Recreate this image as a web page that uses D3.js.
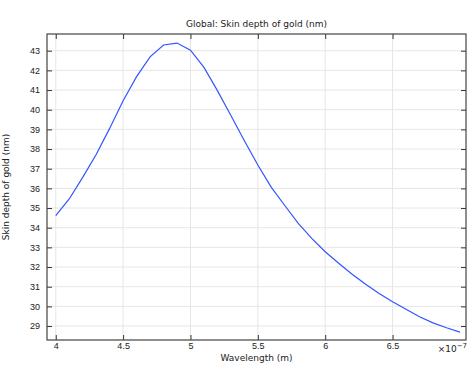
<!DOCTYPE html>
<html>
<head>
<meta charset="utf-8">
<script src="https://cdn.jsdelivr.net/npm/d3@7"></script>
<style>
  body { margin: 0; background: #fff; }
  svg { display: block; font-family: "DejaVu Sans", sans-serif; }
  .grid line { stroke: #e6e6e6; stroke-width: 1; }
</style>
</head>
<body>
<div id="chart"></div>
<script>

// Wavelength in units of 1e-7 m
const wavelength = [4.0, 4.1, 4.2, 4.3, 4.4, 4.5, 4.6, 4.7, 4.8, 4.9,
                    5.0, 5.1, 5.2, 5.3, 5.4, 5.5, 5.6, 5.7, 5.8, 5.9,
                    6.0, 6.1, 6.2, 6.3, 6.4, 6.5, 6.6, 6.7, 6.8, 6.9, 7.0];
// Skin depth of gold (nm)
const skinDepth = [34.61, 35.46, 36.56, 37.72, 39.05, 40.46, 41.68, 42.69, 43.29, 43.39,
                   43.03, 42.15, 40.97, 39.71, 38.42, 37.19, 36.05, 35.13, 34.22, 33.46,
                   32.78, 32.19, 31.63, 31.13, 30.66, 30.23, 29.85, 29.47, 29.16, 28.91, 28.69];

const xTicks = [4, 4.5, 5, 5.5, 6, 6.5];
const yTicks = [29, 30, 31, 32, 33, 34, 35, 36, 37, 38, 39, 40, 41, 42, 43];

const chart = {width: 474, height: 366,
               margin: {top: 34, right: 8, bottom: 26, left: 47}};
chart.xwidth = chart.width - chart.margin.left - chart.margin.right;
chart.yheight = chart.height - chart.margin.top - chart.margin.bottom;

const svg = d3.select("#chart").append("svg")
    .attr("width", chart.width)
    .attr("height", chart.height);

const g = svg.append("g")
    .attr("transform", "translate(" + chart.margin.left + "," + chart.margin.top + ")");

const x = d3.scaleLinear().domain([3.935, 7.045]).range([0, chart.xwidth]);
const y = d3.scaleLinear().domain([28.29, 43.85]).range([chart.yheight, 0]);

// Grid
const grid = g.append("g").attr("class", "grid");
grid.selectAll("line.gx").data(xTicks).enter().append("line")
    .attr("x1", d => x(d)).attr("x2", d => x(d))
    .attr("y1", 0).attr("y2", chart.yheight);
grid.selectAll("line.gy").data(yTicks).enter().append("line")
    .attr("x1", 0).attr("x2", chart.xwidth)
    .attr("y1", d => y(d)).attr("y2", d => y(d));

// Axes (ticks point inward)
const axisStyle = sel => {
    sel.select(".domain").remove();
    sel.selectAll(".tick line").attr("stroke", "#333");
};

g.append("g")
    .attr("transform", "translate(0," + chart.yheight + ")")
    .call(d3.axisBottom(x).tickValues(xTicks).tickSizeInner(-5).tickPadding(3)
          .tickFormat(d3.format("")))
    .call(axisStyle);

g.append("g")
    .call(d3.axisTop(x).tickValues(xTicks).tickSizeInner(-5).tickFormat(""))
    .call(axisStyle);

g.append("g")
    .call(d3.axisLeft(y).tickValues(yTicks).tickSizeInner(-5).tickPadding(7))
    .call(axisStyle);

g.append("g")
    .attr("transform", "translate(" + chart.xwidth + ",0)")
    .call(d3.axisRight(y).tickValues(yTicks).tickSizeInner(-5).tickFormat(""))
    .call(axisStyle);

g.selectAll(".tick text").attr("font-size", 9).attr("fill", "#222");

// Frame
g.append("rect")
    .attr("width", chart.xwidth).attr("height", chart.yheight)
    .attr("fill", "none").attr("stroke", "#444").attr("stroke-width", 1.2);

// Line
const points = wavelength.map((w, i) => ({w: w, v: skinDepth[i]}));
g.append("path")
    .datum(points)
    .attr("fill", "none")
    .attr("stroke", "#3355ff")
    .attr("stroke-width", 1.2)
    .attr("d", d3.line().x(d => x(d.w)).y(d => y(d.v)));

// Exponent label
const expText = g.append("text")
    .attr("x", chart.xwidth + 1)
    .attr("y", chart.yheight + 12)
    .attr("text-anchor", "end")
    .attr("font-size", 9)
    .attr("fill", "#222");
expText.append("tspan").text("×10");
expText.append("tspan").attr("dy", -4).attr("font-size", 7).text("−7");

// Title and axis labels
svg.append("text")
    .attr("x", chart.margin.left + chart.xwidth / 2)
    .attr("y", 27)
    .attr("text-anchor", "middle")
    .attr("font-size", 9)
    .attr("fill", "#222")
    .text("Global: Skin depth of gold (nm)");

svg.append("text")
    .attr("x", chart.margin.left + chart.xwidth / 2)
    .attr("y", 361)
    .attr("text-anchor", "middle")
    .attr("font-size", 9)
    .attr("fill", "#222")
    .text("Wavelength (m)");

svg.append("text")
    .attr("transform", "translate(9," + (chart.margin.top + chart.yheight / 2) + ") rotate(-90)")
    .attr("text-anchor", "middle")
    .attr("font-size", 9)
    .attr("fill", "#222")
    .text("Skin depth of gold (nm)");

</script>
</body>
</html>
